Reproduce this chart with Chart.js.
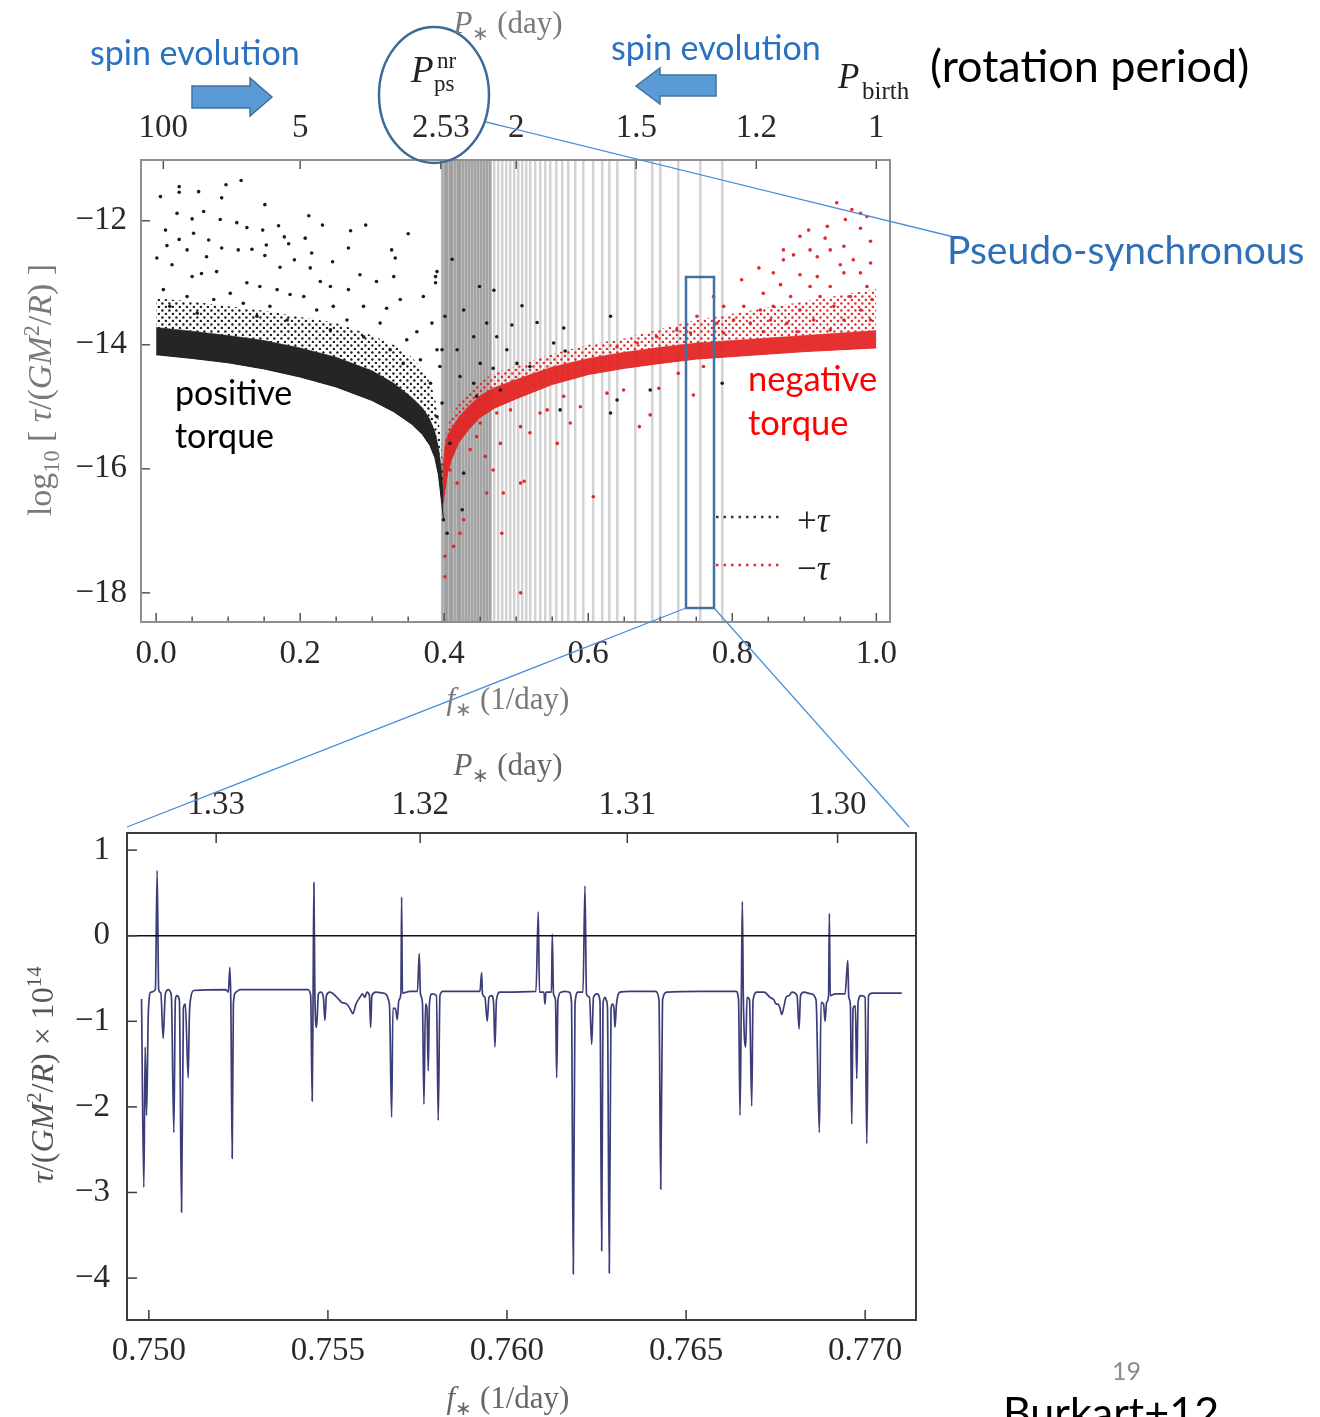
<!DOCTYPE html>
<html>
<head>
<meta charset="utf-8">
<script src="https://cdn.jsdelivr.net/npm/chart.js@4.4.1/dist/chart.umd.min.js"></script>
<style>
  body { margin: 0; background: #fff; }
  #page { position: relative; width: 1320px; height: 1417px; overflow: hidden; font-family: Lato, sans-serif; }
  canvas { position: absolute; }
  #topChart { left: 0; top: 0; }
  #zoomChart { left: 0; top: 740px; }
  svg { position: absolute; left: 0; top: 0; pointer-events: none; }
  .t { position: absolute; white-space: nowrap; line-height: 1; }
  .serif { font-family: 'Liberation Serif', serif; }
  .c { transform: translateX(-50%); }
  .rot { transform: translate(-50%, -50%) rotate(-90deg); }
  .blue { color: #2a72c0; }
  sub, sup { font-size: 65%; line-height: 0; }
</style>
</head>
<body>
<div id="page">
  <canvas id="topChart" width="900" height="720"></canvas>
  <canvas id="zoomChart" width="930" height="677"></canvas>

  <svg width="1320" height="1417">
    <ellipse cx="434" cy="95" rx="55" ry="68" fill="none" stroke="#3d6a98" stroke-width="2.5"/>
    <line x1="486" y1="122" x2="958" y2="238" stroke="#4a8fd8" stroke-width="1.3"/>
    <rect x="686" y="277" width="28" height="331" fill="none" stroke="#41719c" stroke-width="2.5"/>
    <line x1="686" y1="608" x2="127" y2="827" stroke="#4a8fd8" stroke-width="1.3"/>
    <line x1="714" y1="608" x2="909" y2="827" stroke="#4a8fd8" stroke-width="1.3"/>
    <polygon points="192,86 250,86 250,78 272,97 250,116 250,108 192,108" fill="#5b9bd5" stroke="#41719c" stroke-width="1.5"/>
    <polygon points="716,75 660,75 660,68 636,86 660,104 660,96 716,96" fill="#5b9bd5" stroke="#41719c" stroke-width="1.5"/>
    <line x1="716" y1="517" x2="782" y2="517" stroke="#333" stroke-width="2.5" stroke-dasharray="2.5 5"/>
    <line x1="716" y1="565" x2="782" y2="565" stroke="#e3282b" stroke-width="2.5" stroke-dasharray="2.5 5"/>
  </svg>

  <div class="t blue" style="left:90px;top:35px;font-size:34px;">spin evolution</div>
  <div class="t blue" style="left:611px;top:30px;font-size:34px;">spin evolution</div>
  <div class="t" style="left:930px;top:43px;font-size:45px;color:#000;">(rotation period)</div>
  <div class="t" style="left:947px;top:230px;font-size:39px;color:#2e6fb5;">Pseudo-synchronous</div>
  <div class="t" style="left:175px;top:375px;font-size:34px;color:#000;">positive</div>
  <div class="t" style="left:175px;top:418px;font-size:34px;color:#000;">torque</div>
  <div class="t" style="left:748px;top:361px;font-size:34.5px;color:#f00;">negative</div>
  <div class="t" style="left:748px;top:405px;font-size:34.5px;color:#f00;">torque</div>
  <div class="t" style="left:1112px;top:1358px;font-size:25px;color:#8c8c8c;">19</div>
  <div class="t" style="left:1003px;top:1390px;font-size:43px;color:#000;">Burkart+12</div>

  <div class="t serif c" style="left:508px;top:7px;font-size:31px;color:#7a7a7a;"><i>P</i><sub>∗</sub> (day)</div>
  <div class="t serif" style="left:411px;top:51px;font-size:37px;color:#222;"><i>P</i></div>
  <div class="t serif" style="left:437px;top:49px;font-size:23px;color:#222;">nr</div>
  <div class="t serif" style="left:434px;top:72px;font-size:23px;color:#222;">ps</div>
  <div class="t serif" style="left:838px;top:59px;font-size:35px;color:#222;"><i>P</i></div>
  <div class="t serif" style="left:862px;top:78px;font-size:25px;color:#222;">birth</div>
  <div class="t serif c" style="left:508px;top:683px;font-size:31px;color:#7a7a7a;"><i>f</i><sub>∗</sub> (1/day)</div>
  <div class="t serif rot" style="left:40px;top:390px;font-size:34px;color:#7a7a7a;">log<sub>10</sub> [ <i>τ</i>/(<i>GM</i><sup>2</sup>/<i>R</i>) ]</div>
  <div class="t serif" style="left:797px;top:503px;font-size:35px;color:#222;">+<i>τ</i></div>
  <div class="t serif" style="left:797px;top:551px;font-size:35px;color:#222;">−<i>τ</i></div>

  <div class="t serif c" style="left:508px;top:749px;font-size:31px;color:#666;"><i>P</i><sub>∗</sub> (day)</div>
  <div class="t serif c" style="left:508px;top:1382px;font-size:31px;color:#666;"><i>f</i><sub>∗</sub> (1/day)</div>
  <div class="t serif rot" style="left:42px;top:1075px;font-size:32px;color:#555;"><i>τ</i>/(<i>GM</i><sup>2</sup>/<i>R</i>) × 10<sup>14</sup></div>
</div>

<script>
// ---- top panel: log torque vs spin frequency ----
const freqTicks = [0, 0.2, 0.4, 0.6, 0.8, 1.0];
const freqMinorTicks = [0.05, 0.1, 0.15, 0.25, 0.3, 0.35, 0.45, 0.5, 0.55, 0.65, 0.7, 0.75, 0.85, 0.9, 0.95];
const periodTicks = [100, 5, 2.53, 2, 1.5, 1.2, 1];
const periodLabels = ["100", "5", "2.53", "2", "1.5", "1.2", "1"];
const logTauTicks = [-12, -14, -16, -18];

const resonanceFreq = [0.3972, 0.4014, 0.4042, 0.4083, 0.4111, 0.4153, 0.4194, 0.4222, 0.4264, 0.4306,
  0.4347, 0.4389, 0.4431, 0.4472, 0.4514, 0.4556, 0.4597, 0.4639, 0.4694, 0.475, 0.4806, 0.4861,
  0.4917, 0.4972, 0.5028, 0.5083, 0.5139, 0.5194, 0.5264, 0.5333, 0.5403, 0.5472, 0.5556, 0.5639,
  0.5722, 0.5819, 0.5931, 0.6069, 0.6194, 0.6292, 0.6403, 0.6653, 0.6889, 0.7, 0.725, 0.7556, 0.7861];

// dense part of the +tau cloud
const blackBandFreq  = [0, 0.05, 0.1, 0.15, 0.2, 0.25, 0.3, 0.33, 0.355, 0.37, 0.38, 0.387, 0.392, 0.396, 0.399];
const blackCoreLower = [-14.16, -14.22, -14.29, -14.39, -14.52, -14.68, -14.9, -15.08, -15.28, -15.45, -15.62, -15.82, -16.1, -16.5, -16.8];
const blackCoreUpper = [-13.72, -13.78, -13.85, -13.93, -14.05, -14.2, -14.42, -14.62, -14.85, -15.02, -15.2, -15.4, -15.65, -16.0, -16.45];
const blackHaloUpper = [-13.25, -13.3, -13.38, -13.45, -13.55, -13.65, -13.85, -14.0, -14.2, -14.4, -14.6, -14.85, -15.2, -15.6, -16.2];

// dense part of the -tau cloud
const redBandFreq  = [0.398, 0.401, 0.405, 0.41, 0.42, 0.435, 0.45, 0.47, 0.5, 0.55, 0.6, 0.65, 0.7, 0.75, 0.8, 0.85, 0.9, 0.95, 1.0];
const redCoreUpper = [-16.0, -15.65, -15.45, -15.35, -15.17, -14.98, -14.82, -14.69, -14.56, -14.36, -14.22, -14.12, -14.04, -13.97, -13.93, -13.89, -13.85, -13.81, -13.77];
const redCoreLower = [-16.6, -16.35, -16.05, -15.85, -15.58, -15.35, -15.17, -15.02, -14.87, -14.64, -14.48, -14.38, -14.3, -14.23, -14.19, -14.15, -14.11, -14.08, -14.05];
const redHaloUpper = [-16.0, -15.55, -15.3, -15.15, -14.95, -14.75, -14.6, -14.45, -14.35, -14.15, -14.0, -13.9, -13.75, -13.6, -13.5, -13.4, -13.3, -13.2, -13.1];

// scattered +tau points
const posTorqueFreq = [0.006, 0.032, 0.032, 0.059, 0.097, 0.118, 0.091, 0.151, 0.029, 0.066, 0.05, 0.089, 0.112, 0.126,
  0.148, 0.17, 0.212, 0.231, 0.27, 0.291, 0.35, 0.013, 0.052, 0.032, 0.073, 0.178, 0.207, 0.015, 0.043, 0.091, 0.114,
  0.133, 0.153, 0.184, 0.216, 0.267, 0.327, 0.332, 0.245, 0.192, 0.151, 0.07, 0.001, 0.172, 0.214, 0.39, 0.283, 0.33,
  0.371, 0.306, 0.228, 0.242, 0.126, 0.144, 0.05, 0.063, 0.084, 0.022, 0.267, 0.339, 0.32, 0.288, 0.246, 0.205, 0.186,
  0.168, 0.103, 0.08, 0.043, 0.01, 0.383, 0.362, 0.397, 0.367, 0.381, 0.348, 0.311, 0.265, 0.223, 0.158, 0.121, 0.019,
  0.057, 0.14, 0.182, 0.242, 0.288, 0.325, 0.343,
  0.411, 0.449, 0.469, 0.508, 0.494, 0.529, 0.568, 0.631, 0.552, 0.566, 0.427, 0.441, 0.459, 0.473, 0.418, 0.45, 0.468,
  0.487, 0.422, 0.441, 0.501, 0.519, 0.445, 0.478, 0.561, 0.631, 0.64, 0.686, 0.786, 0.427, 0.408, 0.425, 0.399, 0.404,
  0.39, 0.397, 0.388, 0.388, 0.39, 0.401, 0.394];
const posTorqueLog = [-11.61, -11.45, -11.54, -11.53, -11.42, -11.35, -11.63, -11.74, -11.88, -11.85, -11.97, -11.98,
  -12.03, -12.11, -12.15, -12.08, -11.92, -12.07, -12.16, -12.07, -12.21, -12.15, -12.2, -12.3, -12.31, -12.26, -12.28,
  -12.4, -12.47, -12.44, -12.47, -12.46, -12.39, -12.37, -12.52, -12.44, -12.47, -12.6, -12.66, -12.63, -12.56, -12.58,
  -12.6, -12.75, -12.76, -12.82, -12.87, -12.9, -13.22, -12.98, -12.98, -13.06, -13.0, -13.06, -12.9, -12.85, -12.82,
  -12.71, -13.11, -13.27, -13.41, -13.38, -13.38, -13.22, -13.19, -13.11, -13.17, -13.27, -13.22, -13.11, -13.65, -13.79,
  -14.08, -14.24, -14.62, -13.92, -13.65, -13.6, -13.44, -13.38, -13.33, -13.38, -13.49, -13.54, -13.6, -13.76, -13.87,
  -14.08, -14.3,
  -12.62, -13.06, -13.12, -13.37, -13.68, -13.64, -14.1, -13.54, -13.97, -13.73, -13.44, -13.87, -13.65, -13.87, -14.08,
  -14.3, -14.38, -14.08, -14.51, -14.62, -14.3, -14.35, -14.83, -14.73, -15.05, -15.1, -14.89, -14.73, -14.62, -16.07,
  -15.59, -16.66, -16.82, -17.04, -15.16, -14.94, -12.9, -13.0, -14.08, -13.54, -14.35];

// scattered -tau points
const negTorqueFreq = [0.945, 0.966, 0.978, 0.957, 0.987, 0.906, 0.932, 0.978, 0.894, 0.929, 0.992, 0.955, 0.871, 0.908,
  0.936, 0.871, 0.885, 0.918, 0.968, 0.992, 0.95, 0.837, 0.857, 0.894, 0.918, 0.955, 0.978, 0.813, 0.867, 0.908, 0.936,
  0.987, 0.843, 0.881, 0.922, 0.964, 0.994, 0.774, 0.788, 0.816, 0.839, 0.857, 0.894, 0.941, 0.978, 0.751, 0.779, 0.802,
  0.825, 0.853, 0.876, 0.913, 0.955, 0.992, 0.723, 0.742, 0.788, 0.843, 0.89, 0.936, 0.695, 0.668, 0.64,
  0.746, 0.76, 0.725, 0.698, 0.686, 0.671, 0.649, 0.626, 0.607, 0.589, 0.575, 0.566, 0.543, 0.533, 0.519, 0.506, 0.506,
  0.506, 0.492, 0.482, 0.478, 0.468, 0.459, 0.457, 0.445, 0.436, 0.427, 0.422, 0.413, 0.401, 0.401, 0.48, 0.511, 0.557,
  0.524, 0.487, 0.473, 0.45, 0.408, 0.418];
const negTorqueLog = [-11.71, -11.82, -11.88, -11.98, -11.93, -12.15, -12.09, -12.12, -12.25, -12.28, -12.33, -12.41,
  -12.47, -12.47, -12.47, -12.63, -12.55, -12.58, -12.63, -12.68, -12.71, -12.76, -12.84, -12.87, -12.9, -12.84, -12.84,
  -12.95, -13.03, -13.06, -13.06, -13.06, -13.17, -13.22, -13.22, -13.22, -13.27, -13.22, -13.38, -13.38, -13.44, -13.38,
  -13.44, -13.38, -13.44, -13.54, -13.65, -13.6, -13.65, -13.6, -13.65, -13.6, -13.6, -13.6, -13.76, -13.81, -13.81,
  -13.79, -13.79, -13.76, -13.87, -13.97, -14.03,
  -14.81, -14.35, -14.46, -14.7, -15.13, -15.32, -14.73, -14.78, -16.45, -15.0, -15.26, -14.83, -15.05, -15.1, -15.42,
  -15.32, -16.23, -18.0, -15.05, -16.39, -15.59, -16.02, -16.39, -15.8, -15.48, -15.69, -16.82, -17.04, -17.25, -17.41,
  -17.74, -17.04, -16.2, -15.59, -14.62, -14.73, -15.1, -15.26, -16.02, -16.23];

// ---- bottom panel: torque in a narrow frequency window ----
const zoomFreqTicks = [0.750, 0.755, 0.760, 0.765, 0.770];
const zoomPeriodTicks = [1.33, 1.32, 1.31, 1.30];
const zoomPeriodLabels = ["1.33", "1.32", "1.31", "1.30"];
const zoomTorqueTicks = [1, 0, -1, -2, -3, -4];

const zoomFreq = [0.749796, 0.74986, 0.749897, 0.749936, 0.749986, 0.750056, 0.750182, 0.750232, 0.750274, 0.750335,
  0.750399, 0.750461, 0.750545, 0.750628, 0.750698, 0.75074, 0.750782, 0.750852, 0.750913, 0.750964, 0.751019, 0.751098,
  0.751131, 0.751173, 0.751257, 0.752151, 0.75222, 0.752262, 0.75229, 0.752327, 0.75236, 0.75243, 0.752542, 0.754441,
  0.754519, 0.754561, 0.754586, 0.754608, 0.754636, 0.754684, 0.754734, 0.754804, 0.754874, 0.754916, 0.754958, 0.755055,
  0.755251, 0.75539, 0.75553, 0.755614, 0.755698, 0.755782, 0.755893, 0.755963, 0.756033, 0.756089, 0.756159, 0.756192,
  0.756228, 0.75634, 0.756536, 0.756717, 0.756779, 0.756815, 0.756885, 0.756935, 0.756983, 0.757038, 0.757058, 0.75708,
  0.75729, 0.757499, 0.75755, 0.757583, 0.757639, 0.757681, 0.757723, 0.757765, 0.757801, 0.757834, 0.757904, 0.75803,
  0.75808, 0.758128, 0.758211, 0.759245, 0.759292, 0.759315, 0.759384, 0.759449, 0.759496, 0.75958, 0.759627, 0.759664,
  0.759706, 0.759803, 0.760809, 0.760873, 0.760907, 0.761032, 0.76106, 0.761088, 0.761242, 0.761264, 0.761298, 0.761354,
  0.761387, 0.761423, 0.761507, 0.761619, 0.761731, 0.761801, 0.761851, 0.761898, 0.761982, 0.762122, 0.762177, 0.762219,
  0.762303, 0.762365, 0.762415, 0.762513, 0.762596, 0.762644, 0.76268, 0.762736, 0.762778, 0.762806, 0.762856, 0.762904,
  0.762946, 0.762987, 0.763015, 0.763057, 0.763155, 0.763434, 0.764133, 0.764244, 0.764292, 0.764342, 0.764468, 0.765389,
  0.766395, 0.766465, 0.766507, 0.766543, 0.766571, 0.766599, 0.766666, 0.766702, 0.766772, 0.766833, 0.76687, 0.766981,
  0.767177, 0.767345, 0.767456, 0.767512, 0.767568, 0.767624, 0.767671, 0.767736, 0.767791, 0.767875, 0.767959, 0.768099,
  0.768155, 0.768196, 0.768294, 0.76849, 0.768629, 0.768722, 0.768769, 0.768839, 0.768881, 0.768923, 0.768979, 0.769001,
  0.769026, 0.76916, 0.769439, 0.769515, 0.769543, 0.769587, 0.769626, 0.769663, 0.769727, 0.769766, 0.769802, 0.769886,
  0.769998, 0.770045, 0.770095, 0.770193, 0.771023];
const zoomTorque = [-0.74, -2.94, -1.3, -2.1, -0.9, -0.66, -0.63, 0.76, -0.63, -0.67, -1.2, -0.68, -0.63, -0.7, -2.3,
  -0.75, -0.7, -0.75, -3.23, -0.85, -0.8, -1.66, -0.95, -0.72, -0.64, -0.63, -0.66, -0.37, -0.8, -2.6, -0.8, -0.66, -0.63,
  -0.63, -0.7, -1.93, -0.7, 0.62, -0.7, -1.07, -0.68, -0.66, -0.72, -0.99, -0.7, -0.66, -0.72, -0.78, -0.8, -0.85, -0.91,
  -0.8, -0.72, -0.68, -0.72, -0.66, -0.7, -1.07, -0.7, -0.66, -0.67, -0.8, -2.12, -0.85, -0.85, -0.98, -0.75, -0.67, 0.45,
  -0.67, -0.65, -0.65, -0.21, -0.68, -0.78, -1.97, -0.8, -0.85, -1.58, -0.8, -0.68, -0.7, -2.16, -0.7, -0.65, -0.65, -0.43,
  -0.68, -0.72, -1.0, -0.72, -0.7, -0.8, -1.3, -0.75, -0.66, -0.65, 0.28, -0.66, -0.66, -0.8, -0.66, -0.66, 0.02, -0.68,
  -0.75, -1.66, -0.75, -0.66, -0.65, -0.66, -0.78, -3.95, -0.8, -0.66, -0.66, 0.58, -0.68, -0.72, -1.27, -0.72, -0.68,
  -0.76, -3.68, -0.8, -0.72, -0.76, -0.85, -3.94, -0.85, -0.8, -0.85, -1.07, -0.8, -0.66, -0.65, -0.65, -0.75, -2.96,
  -0.75, -0.66, -0.65, -0.65, -0.75, -2.1, -0.72, 0.4, -0.72, -1.3, -0.72, -0.75, -1.99, -0.75, -0.66, -0.66, -0.72,
  -0.75, -0.8, -0.8, -0.85, -0.92, -0.82, -0.72, -0.7, -0.66, -0.7, -1.09, -0.7, -0.66, -0.68, -0.75, -2.3, -0.78, -0.8,
  -1.0, -0.78, -0.7, 0.26, -0.7, -0.68, -0.68, -0.29, -0.72, -0.8, -2.2, -0.85, -0.82, -1.67, -0.78, -0.7, -0.72, -2.43,
  -0.7, -0.67, -0.67];

const toXY = (xs, ys) => xs.map((x, i) => ({ x: x, y: ys[i] }));
const serif = "'Liberation Serif', 'Times New Roman', serif";
const minusLabel = v => (v < 0 ? "\u2212" + Math.abs(v) : String(v));

// speckled fill used for the thinner part of each cloud
function dotPattern(color, step, r) {
  const c = document.createElement("canvas");
  c.width = c.height = step;
  const g = c.getContext("2d");
  g.fillStyle = color;
  [[0.2, 0.35], [0.7, 0.85]].forEach(([u, v]) => {
    g.beginPath(); g.arc(u * step, v * step, r, 0, 2 * Math.PI); g.fill();
  });
  return g.createPattern(c, "repeat");
}

// frame + inward tick marks, drawn from the chart's own scales
const frameTicks = {
  id: "frameTicks",
  afterDraw(chart, args, opts) {
    const { ctx, chartArea: a, scales } = chart;
    ctx.save();
    ctx.strokeStyle = opts.tickColor;
    ctx.lineWidth = 1.5;
    const mark = (x1, y1, x2, y2) => { ctx.beginPath(); ctx.moveTo(x1, y1); ctx.lineTo(x2, y2); ctx.stroke(); };
    opts.axes.forEach(ax => {
      const s = scales[ax.id];
      const vals = s.ticks.map(t => [t.value, ax.len]).concat((ax.minor || []).map(v => [v, ax.len * 0.6]));
      vals.forEach(([v, len]) => {
        const p = s.getPixelForValue(v);
        if (ax.side === "bottom") mark(p, a.bottom, p, a.bottom - len);
        if (ax.side === "top") mark(p, a.top, p, a.top + len);
        if (ax.side === "left") mark(a.left, p, a.left + len, p);
      });
    });
    ctx.strokeStyle = opts.frameColor;
    ctx.lineWidth = opts.frameWidth;
    ctx.strokeRect(a.left, a.top, a.right - a.left, a.bottom - a.top);
    ctx.restore();
  }
};

// grey resonance lines behind the points
const resonanceLines = {
  id: "resonanceLines",
  beforeDatasetsDraw(chart, args, opts) {
    const { ctx, chartArea: a, scales: { x } } = chart;
    ctx.save();
    ctx.beginPath();
    ctx.rect(a.left, a.top, a.right - a.left, a.bottom - a.top);
    ctx.clip();
    const x0 = x.getPixelForValue(opts.freqs[0]);
    const x1 = x.getPixelForValue(opts.shadeTo);
    ctx.fillStyle = "rgba(165,165,165,0.5)";
    ctx.fillRect(x0, a.top, x1 - x0, a.bottom - a.top);
    ctx.lineWidth = 2.5;
    opts.freqs.forEach(f => {
      const p = x.getPixelForValue(f);
      ctx.strokeStyle = f < opts.shadeTo ? "rgba(120,120,120,0.5)" : "rgba(150,150,150,0.42)";
      ctx.beginPath(); ctx.moveTo(p, a.top); ctx.lineTo(p, a.bottom); ctx.stroke();
    });
    ctx.restore();
  }
};

const bandLine = (data, fill, bg, line, order) => ({
  type: "line", data: data, fill: fill, backgroundColor: bg, borderColor: line,
  borderWidth: 1, pointRadius: 0, order: order
});

// keep the last tick label from shrinking the plot area
const noSidePad = s => { s.paddingLeft = 0; s.paddingRight = 0; };

new Chart(document.getElementById("topChart").getContext("2d"), {
  type: "scatter",
  data: {
    datasets: [
      bandLine(toXY(blackBandFreq, blackHaloUpper), 1, dotPattern("#1c1c1c", 7, 1.2), "rgba(0,0,0,0)", 3),
      bandLine(toXY(blackBandFreq, blackCoreUpper), 2, "rgba(18,18,18,0.92)", "rgba(18,18,18,0.5)", 3),
      bandLine(toXY(blackBandFreq, blackCoreLower), false, "rgba(0,0,0,0)", "rgba(18,18,18,0.9)", 3),
      bandLine(toXY(redBandFreq, redHaloUpper), 4, dotPattern("#e3282b", 7, 1.2), "rgba(0,0,0,0)", 2),
      bandLine(toXY(redBandFreq, redCoreUpper), 5, "rgba(228,32,32,0.92)", "rgba(228,32,32,0.5)", 2),
      bandLine(toXY(redBandFreq, redCoreLower), false, "rgba(0,0,0,0)", "rgba(228,32,32,0.9)", 2),
      { data: toXY(posTorqueFreq, posTorqueLog), pointRadius: 1.8, backgroundColor: "#1c1c1c", borderWidth: 0, order: 1 },
      { data: toXY(negTorqueFreq, negTorqueLog), pointRadius: 1.8, backgroundColor: "#e3282b", borderWidth: 0, order: 0 }
    ]
  },
  options: {
    responsive: false,
    animation: false,
    events: [],
    layout: { padding: { left: 0, right: 10, top: 0, bottom: 0 } },
    plugins: {
      legend: { display: false },
      tooltip: { enabled: false },
      resonanceLines: { freqs: resonanceFreq, shadeTo: 0.466 },
      frameTicks: {
        frameColor: "#8f8f8f", frameWidth: 2, tickColor: "#555",
        axes: [
          { id: "x", side: "bottom", len: 9, minor: freqMinorTicks },
          { id: "x2", side: "top", len: 9 },
          { id: "y", side: "left", len: 9 }
        ]
      }
    },
    scales: {
      x: {
        type: "linear", position: "bottom", min: -0.021, max: 1.019,
        afterBuildTicks: s => { s.ticks = freqTicks.map(v => ({ value: v })); },
        afterFit: s => { s.height = 98; noSidePad(s); },
        grid: { display: false, drawTicks: false }, border: { display: false },
        ticks: { autoSkip: false, maxRotation: 0, padding: 13, color: "#2a2a2a", font: { family: serif, size: 33 },
                 callback: v => v.toFixed(1) }
      },
      x2: {
        type: "linear", position: "top", min: -0.021, max: 1.019,
        afterBuildTicks: s => { s.ticks = periodTicks.map(p => ({ value: 1 / p })); },
        afterFit: s => { s.height = 160; noSidePad(s); },
        grid: { display: false, drawTicks: false }, border: { display: false },
        ticks: { autoSkip: false, maxRotation: 0, padding: 12, color: "#2a2a2a", font: { family: serif, size: 33 },
                 callback: (v, i) => periodLabels[i] }
      },
      y: {
        type: "linear", min: -18.47, max: -11.02,
        afterBuildTicks: s => { s.ticks = logTauTicks.map(v => ({ value: v })); },
        afterFit: s => { s.width = 141; },
        grid: { display: false, drawTicks: false }, border: { display: false },
        ticks: { padding: 14, color: "#2a2a2a", font: { family: serif, size: 33 }, callback: minusLabel }
      }
    }
  },
  plugins: [resonanceLines, frameTicks]
});

const zoomMin = 0.74939, zoomMax = 0.77142;

new Chart(document.getElementById("zoomChart").getContext("2d"), {
  type: "line",
  data: {
    datasets: [
      { data: [{ x: zoomMin, y: 0 }, { x: zoomMax, y: 0 }], borderColor: "#111", borderWidth: 1.6, pointRadius: 0 },
      { data: toXY(zoomFreq, zoomTorque), borderColor: "#3b3d78", borderWidth: 1.7, pointRadius: 0,
        cubicInterpolationMode: "monotone" }
    ]
  },
  options: {
    responsive: false,
    animation: false,
    events: [],
    layout: { padding: { left: 0, right: 14, top: 0, bottom: 0 } },
    plugins: {
      legend: { display: false },
      tooltip: { enabled: false },
      frameTicks: {
        frameColor: "#3c3c3c", frameWidth: 2, tickColor: "#3c3c3c",
        axes: [
          { id: "x", side: "bottom", len: 10 },
          { id: "x2", side: "top", len: 10 },
          { id: "y", side: "left", len: 10 }
        ]
      }
    },
    scales: {
      x: {
        type: "linear", position: "bottom", min: zoomMin, max: zoomMax,
        afterBuildTicks: s => { s.ticks = zoomFreqTicks.map(v => ({ value: v })); },
        afterFit: s => { s.height = 97; noSidePad(s); },
        grid: { display: false, drawTicks: false }, border: { display: false },
        ticks: { autoSkip: false, maxRotation: 0, padding: 12, color: "#2a2a2a", font: { family: serif, size: 33 },
                 callback: v => v.toFixed(3) }
      },
      x2: {
        type: "linear", position: "top", min: zoomMin, max: zoomMax,
        afterBuildTicks: s => { s.ticks = zoomPeriodTicks.map(p => ({ value: 1 / p })); },
        afterFit: s => { s.height = 93; noSidePad(s); },
        grid: { display: false, drawTicks: false }, border: { display: false },
        ticks: { autoSkip: false, maxRotation: 0, padding: 8, color: "#2a2a2a", font: { family: serif, size: 33 },
                 callback: (v, i) => zoomPeriodLabels[i] }
      },
      y: {
        type: "linear", min: -4.49, max: 1.2,
        afterBuildTicks: s => { s.ticks = zoomTorqueTicks.map(v => ({ value: v })); },
        afterFit: s => { s.width = 127; },
        grid: { display: false, drawTicks: false }, border: { display: false },
        ticks: { padding: 17, color: "#2a2a2a", font: { family: serif, size: 33 }, callback: minusLabel }
      }
    }
  },
  plugins: [frameTicks]
});
</script>
</body>
</html>
